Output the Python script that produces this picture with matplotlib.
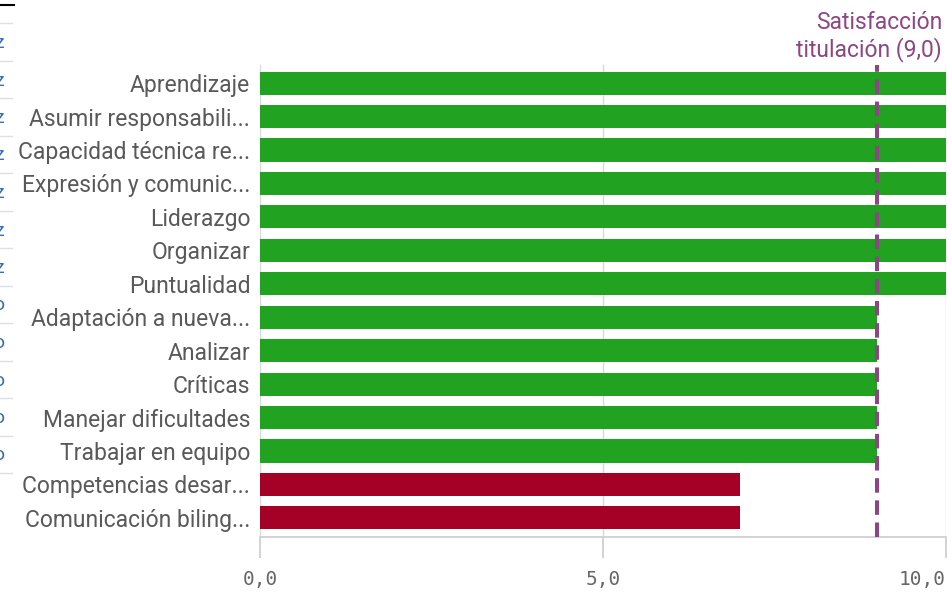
import numpy as np
import matplotlib.pyplot as plt

categories = ["Aprendizaje", "Asumir responsabili...", "Capacidad técnica re...",
              "Expresión y comunic...", "Liderazgo", "Organizar", "Puntualidad",
              "Adaptación a nueva...", "Analizar", "Críticas", "Manejar dificultades",
              "Trabajar en equipo", "Competencias desar...", "Comunicación biling..."]
values = [10, 10, 10, 10, 10, 10, 10, 9, 9, 9, 9, 9, 7, 7]
reference = 9.0
ref_label = "Satisfacción\ntitulación (9,0)"
xticks = [0, 5, 10]
xtick_labels = ["0,0", "5,0", "10,0"]
# tails of the neighbouring table's cells, cut off at the left edge
edge_glyphs = ["z"] * 7 + ["o"] * 5

green = "#21a221"
red = "#a50026"
purple = "#8e4585"
grey_text = "#595959"

plt.rcParams['font.family'] = ['Roboto', 'DejaVu Sans']

fig = plt.figure(figsize=(9.47, 5.97), dpi=100)
ax = fig.add_axes([260 / 947, 1 - 537 / 597, 686 / 947, (537 - 65) / 597])

y = np.arange(len(categories))
colors = [green if v >= reference else red for v in values]
ax.barh(y, values, height=0.69, color=colors, zorder=2)

ax.axvline(reference, color=purple, lw=2.9, ls=(0, (3.6, 1.9)), zorder=3)

ax.set_xlim(0, 10)
ax.set_ylim(len(categories) - 1 + 0.57, -0.54)
ax.set_yticks(y)
ax.set_yticklabels(categories, fontsize=16.5, color=grey_text)
ax.tick_params(axis='y', length=0, pad=7)

ax.set_xticks(xticks)
ax.set_xticklabels(xtick_labels, fontsize=14, color="#666666", family='DejaVu Sans Mono')
ax.tick_params(axis='x', length=15, color="#cccccc", width=1.2, pad=9)
ax.get_xticklabels()[-1].set_ha('right')
ax.xaxis.grid(True, color="#d9d9d9", lw=1, zorder=0)

for side in ["top", "left", "right"]:
    ax.spines[side].set_visible(False)
ax.spines["bottom"].set_color("#cccccc")
ax.spines["bottom"].set_linewidth(1.2)

ax.text(9.94, -0.62, ref_label, ha='right', va='bottom', fontsize=16.5,
        color=purple, linespacing=1.2)

# clipped table at the left edge
for i, g in enumerate(edge_glyphs):
    yc = 1 - (43 + 37.5 * i) / 597
    fig.text(4 / 947, yc, g, ha='right', va='center', fontsize=14, color="#3a6fb0")
for i in range(13):
    yl = 1 - (23 + 37.5 * i) / 597
    fig.add_artist(plt.Line2D([0, 12 / 947], [yl, yl], color="#e0e0e0", lw=1))
fig.add_artist(plt.Line2D([0, 14 / 947], [1 - 5 / 597, 1 - 5 / 597], color="black", lw=1.5))

fig.savefig("out.png", dpi=100)
